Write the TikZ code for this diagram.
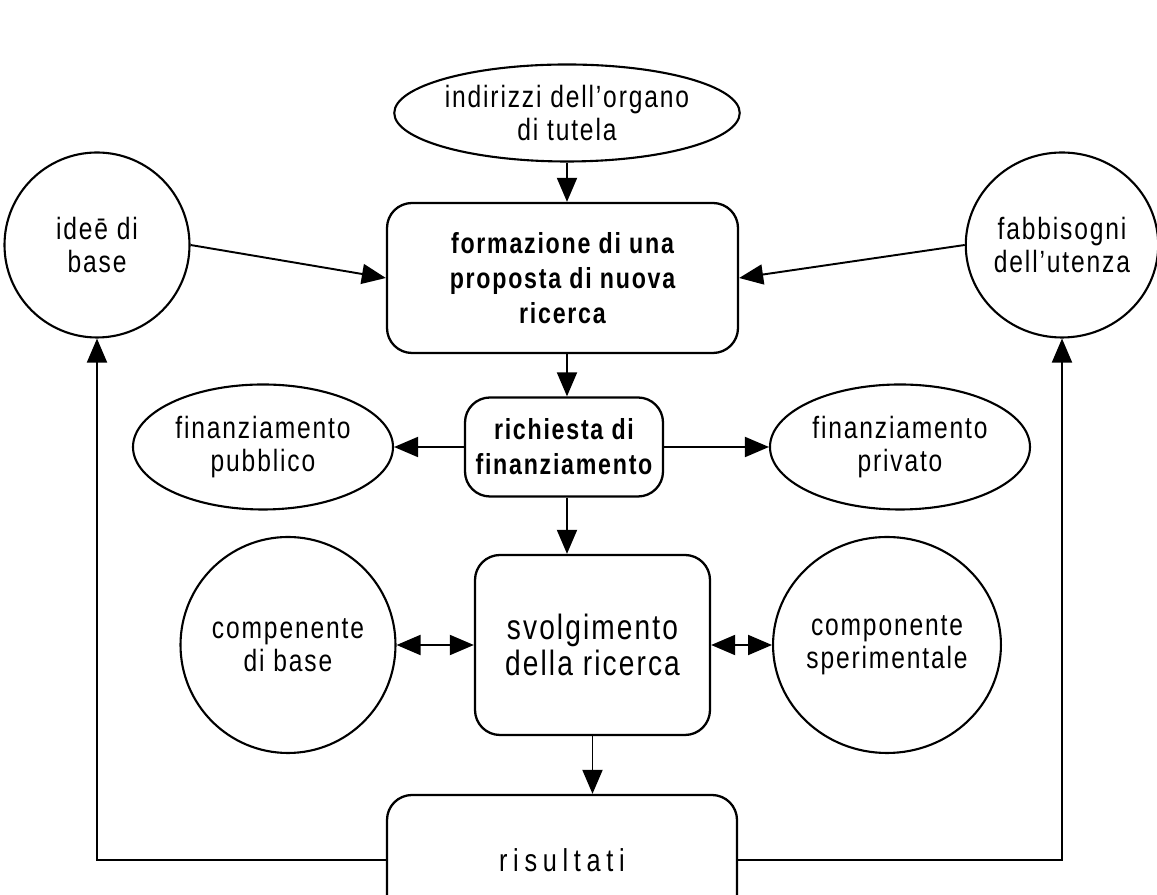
\documentclass[tikz,border=0pt]{standalone}
\usepackage{fontspec}
\setmainfont{Liberation Sans}[FakeStretch=0.8, LetterSpace=6]
\usepackage{tikz}
\usetikzlibrary{positioning}
\usetikzlibrary{shapes.geometric}
\usetikzlibrary{arrows.meta}

\begin{document}
\begin{tikzpicture}[>={Triangle[length=0.48cm,width=0.4cm]}, line width=1.1pt]
        \tikzstyle{fase} = [draw, rounded corners=0.5cm, align=center, line width=1.3pt, font=\fontsize{16.5}{20}\selectfont\bfseries]
        \tikzstyle{ovale} = [draw, ellipse, align=center, inner sep=0pt, line width=1.2pt, font=\fontsize{17.5}{19}\selectfont]

        \useasboundingbox (0,0) rectangle (23.14,17.9);

        % Fasi principali
        \node[fase, minimum width=7.02cm, minimum height=3cm](proposta) at (11.25, 12.34) {formazione di una\\proposta di nuova\\ricerca};
        \node[fase, minimum width=3.96cm, minimum height=1.98cm](richiesta) at (11.28, 8.96) {richiesta di\\finanziamento};
        \node[fase, minimum width=4.7cm, minimum height=3.6cm, font=\fontsize{20}{20}\selectfont](svolgimento) at (11.85, 5.0) {svolgimento\\della ricerca};
        \node[fase, minimum width=7.0cm, minimum height=2.6cm, font=\fontsize{18}{20}\selectfont\addfontfeature{LetterSpace=18}](risultati) at (11.24, 0.7) {risultati};

        % Ovali e cerchi
        \node[ovale, minimum width=6cm, minimum height=1.94cm](tutela) at (11.34, 15.64) {indirizzi dell'organo\\di tutela};
        \node[ovale, minimum width=3.7cm, minimum height=3.7cm](idee) at (1.94, 13.0) {ideē di\\base};
        \node[ovale, minimum width=3.7cm, minimum height=3.7cm](utenza) at (21.24, 13.0) {fabbisogni\\dell'utenza};
        \node[ovale, minimum width=5.2cm, minimum height=2.5cm](pubblico) at (5.26, 8.96) {finanziamento\\pubblico};
        \node[ovale, minimum width=5.2cm, minimum height=2.5cm](privato) at (18.0, 8.96) {finanziamento\\privato};
        \node[ovale, minimum width=4.2cm, minimum height=4.32cm](base) at (5.76, 5.0) {compenente\\di base};
        \node[ovale, minimum width=4.2cm, minimum height=4.32cm](sperimentale) at (17.74, 5.0) {componente\\sperimentale};

        % Collegamenti
        \draw[->] (tutela.south) -- (tutela.south |- proposta.north);
        \draw[->] (idee.east) -- (proposta.west);
        \draw[->] (utenza.west) -- (proposta.east);
        \draw[->] (proposta.south -| tutela) -- (richiesta.north -| tutela);
        \draw[->] (richiesta.west) -- (pubblico.east);
        \draw[->] (richiesta.east) -- (privato.west);
        \draw[->] (richiesta.south -| tutela) -- (svolgimento.north -| tutela);
        \draw[<->] (base.east) -- (svolgimento.west);
        \draw[<->] (svolgimento.east) -- (sperimentale.west);
        \draw[->] (svolgimento) -- (svolgimento |- risultati.north);

        % Ritorno dei risultati
        \draw[->] (risultati.west) -| (idee.south);
        \draw[->] (risultati.east) -| (utenza.south);
\end{tikzpicture}
\end{document}
